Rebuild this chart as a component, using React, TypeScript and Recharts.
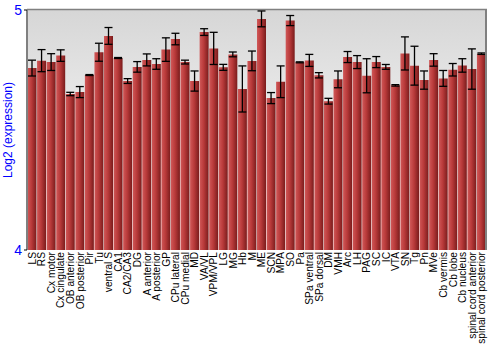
import { Bar, BarChart, CartesianGrid, ErrorBar, XAxis, YAxis } from "recharts";

const regions = [
  "LS", "RS", "Cx motor", "Cx cingulate", "OB anterior", "OB posterior", "Pir", "Tu",
  "ventral S", "CA1", "CA2/CA3", "DG", "A anterior", "A posterior", "GP", "CPu lateral",
  "CPu medial", "MD", "VA/VL", "VPM/VPL", "LG", "MG", "Hb", "M",
  "ME", "SCN", "MPA", "SO", "Pa", "SPa ventral", "SPa dorsal", "DM",
  "VMH", "Arc", "LH", "PAG", "SC", "IC", "VTA", "SN",
  "Tg", "Pn", "MVe", "Cb vermis", "Cb lobe", "Cb nucleus", "spinal cord anterior", "spinal cord posterior",
];

const expression = [
  4.758, 4.789, 4.783, 4.81, 4.65, 4.658, 4.729, 4.824,
  4.892, 4.8, 4.704, 4.763, 4.792, 4.775, 4.835, 4.879,
  4.783, 4.704, 4.908, 4.84, 4.761, 4.815, 4.671, 4.788,
  4.963, 4.633, 4.701, 4.956, 4.782, 4.79, 4.728, 4.62,
  4.711, 4.804, 4.783, 4.726, 4.783, 4.763, 4.686, 4.819,
  4.768, 4.708, 4.792, 4.715, 4.751, 4.769, 4.754, 4.818,
];

const stdErr = [
  0.033, 0.046, 0.035, 0.024, 0.007, 0.023, 0.002, 0.0375,
  0.035, 0.002, 0.01, 0.022, 0.025, 0.022, 0.049, 0.024,
  0.008, 0.042, 0.014, 0.067, 0.0125, 0.01, 0.096, 0.041,
  0.033, 0.023, 0.066, 0.021, 0.002, 0.025, 0.011, 0.012,
  0.035, 0.023, 0.027, 0.071, 0.023, 0.01, 0.003, 0.069,
  0.081, 0.038, 0.026, 0.033, 0.026, 0.028, 0.084, 0.003,
];

const yTicks = [4, 5];

const BLUE = "#0000ff";
const AXIS_GRAY = "#808080";
const FONT = "'Liberation Sans', Arial, sans-serif";

const chartData = regions.map((region, i) => ({
  region,
  value: expression[i],
  err: stdErr[i],
}));

function RegionTick({ x, y, payload }: any) {
  return (
    <text
      x={0}
      y={0}
      transform={`translate(${x + 4},${252}) rotate(-90)`}
      textAnchor="end"
      fontSize={10.2}
      fontFamily={FONT}
      fill="#000"
    >
      {payload.value}
    </text>
  );
}

function AxisTitle() {
  return (
    <text
      x={0}
      y={0}
      transform="translate(12,130) rotate(-90)"
      textAnchor="middle"
      fontSize={12}
      fontFamily={FONT}
      fill={BLUE}
    >
      Log2 (expression)
    </text>
  );
}

export default function App() {
  return (
    <div style={{ position: "absolute", left: 0, top: 0, width: 500, height: 350, background: "#fff" }}>
      <BarChart
        width={500}
        height={350}
        data={chartData}
        margin={{ top: 10, right: 0, left: 0, bottom: 0 }}
        barCategoryGap={0.5}
      >
        <defs>
          <linearGradient id="plotBg" x1="0" y1="0" x2="0" y2="1">
            <stop offset="0%" stopColor="#d6d6d6" />
            <stop offset="85%" stopColor="#ffffff" />
            <stop offset="100%" stopColor="#ffffff" />
          </linearGradient>
          <linearGradient id="barFill" x1="0" y1="0" x2="1" y2="0">
            <stop offset="0%" stopColor="#d05858" />
            <stop offset="45%" stopColor="#b93a3a" />
            <stop offset="100%" stopColor="#7a1c1c" />
          </linearGradient>
        </defs>
        <CartesianGrid
          fill="url(#plotBg)"
          vertical={false}
          horizontal={false}
          stroke="none"
        />
        <XAxis
          dataKey="region"
          interval={0}
          height={100}
          axisLine={false}
          tickLine={false}
          tick={<RegionTick />}
        />
        <YAxis
          yAxisId="left"
          domain={[4, 5]}
          ticks={yTicks}
          width={27}
          allowDataOverflow
          axisLine={{ stroke: AXIS_GRAY, strokeWidth: 2 }}
          tickLine={{ stroke: "#000" }}
          tickSize={3}
          tick={{ fill: BLUE, fontSize: 14, fontFamily: FONT }}
          label={{ content: () => <AxisTitle /> }}
        />
        <YAxis
          yAxisId="right"
          orientation="right"
          domain={[4, 5]}
          ticks={yTicks}
          width={14}
          axisLine={{ stroke: AXIS_GRAY, strokeWidth: 2 }}
          tickLine={{ stroke: "#000" }}
          tickSize={3}
          tick={{ fill: BLUE, fontSize: 14, fontFamily: FONT }}
        />
        <Bar
          yAxisId="left"
          dataKey="value"
          fill="url(#barFill)"
          isAnimationActive={false}
        >
          <ErrorBar dataKey="err" width={4} stroke="#000" strokeWidth={1.3} />
        </Bar>
        <line x1={27} y1={9.5} x2={487} y2={9.5} stroke={AXIS_GRAY} strokeWidth={1.5} />
      </BarChart>
    </div>
  );
}
